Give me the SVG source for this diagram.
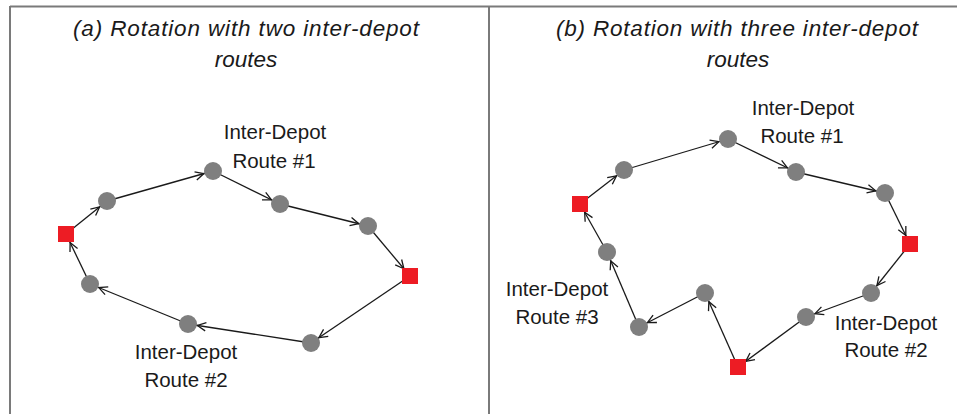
<svg xmlns="http://www.w3.org/2000/svg" width="957" height="414" viewBox="0 0 957 414">
<style>
.frame{stroke:#7a7a7a;stroke-width:2;fill:none}
.title{font-family:"Liberation Sans",Arial,sans-serif;font-style:italic;font-size:22.5px;fill:#1a1a1a;text-anchor:middle}
.lbl{font-family:"Liberation Sans",Arial,sans-serif;font-size:20.5px;fill:#1a1a1a;text-anchor:middle}
.c{fill:#7f7f7f}
.d{fill:#ed1c24}
.e{stroke:#1a1a1a;stroke-width:1.3;fill:none;marker-end:url(#arr)}
</style>
<defs>
<marker id="arr" markerUnits="userSpaceOnUse" markerWidth="30" markerHeight="14" refX="19.5" refY="5" orient="auto" overflow="visible">
<path d="M1.5,0.8 L10,5 L1.5,9.2" fill="none" stroke="#1a1a1a" stroke-width="1.3"/>
</marker>
</defs>
<rect width="957" height="414" fill="#fff"/>
<g id="frame">
<line class="frame" x1="10" y1="6.5" x2="957" y2="6.5"/>
<line class="frame" x1="10" y1="6" x2="10" y2="414"/>
<line class="frame" x1="489" y1="6" x2="489" y2="414"/>
</g>
<g id="titles">
<text class="title" x="246" y="36" textLength="346" lengthAdjust="spacing">(a) Rotation with two inter-depot</text>
<text class="title" x="246" y="67">routes</text>
<text class="title" x="737" y="36" textLength="362" lengthAdjust="spacing">(b) Rotation with three inter-depot</text>
<text class="title" x="738" y="67">routes</text>
</g>
<g id="labels">
<text class="lbl" x="275" y="139">Inter-Depot</text>
<text class="lbl" x="274" y="168">Route #1</text>
<text class="lbl" x="186" y="359">Inter-Depot</text>
<text class="lbl" x="186" y="387">Route #2</text>
<text class="lbl" x="803" y="115">Inter-Depot</text>
<text class="lbl" x="802" y="143">Route #1</text>
<text class="lbl" x="557" y="296">Inter-Depot</text>
<text class="lbl" x="557" y="324">Route #3</text>
<text class="lbl" x="886" y="330">Inter-Depot</text>
<text class="lbl" x="886" y="357">Route #2</text>
</g>
<g id="connectors">
<line class="e" x1="66" y1="234" x2="107" y2="201"/>
<line class="e" x1="107" y1="201" x2="213" y2="171"/>
<line class="e" x1="213" y1="171" x2="280" y2="204"/>
<line class="e" x1="280" y1="204" x2="368" y2="226"/>
<line class="e" x1="368" y1="226" x2="410" y2="276"/>
<line class="e" x1="410" y1="276" x2="311" y2="343"/>
<line class="e" x1="311" y1="343" x2="188" y2="324"/>
<line class="e" x1="188" y1="324" x2="90" y2="284"/>
<line class="e" x1="90" y1="284" x2="66" y2="234"/>
<line class="e" x1="580" y1="204" x2="624" y2="170"/>
<line class="e" x1="624" y1="170" x2="728" y2="139"/>
<line class="e" x1="728" y1="139" x2="796" y2="172"/>
<line class="e" x1="796" y1="172" x2="885" y2="193"/>
<line class="e" x1="885" y1="193" x2="910" y2="244"/>
<line class="e" x1="910" y1="244" x2="871" y2="293"/>
<line class="e" x1="871" y1="293" x2="806" y2="317"/>
<line class="e" x1="806" y1="317" x2="738" y2="367"/>
<line class="e" x1="738" y1="367" x2="705" y2="293"/>
<line class="e" x1="705" y1="293" x2="639" y2="327"/>
<line class="e" x1="639" y1="327" x2="607" y2="252"/>
<line class="e" x1="607" y1="252" x2="580" y2="204"/>
</g>
<g id="a_d1"><rect class="d" x="58" y="226" width="16" height="16"/></g>
<g id="a_n1"><circle class="c" cx="107" cy="201" r="9"/></g>
<g id="a_n2"><circle class="c" cx="213" cy="171" r="9"/></g>
<g id="a_n3"><circle class="c" cx="280" cy="204" r="9"/></g>
<g id="a_n4"><circle class="c" cx="368" cy="226" r="9"/></g>
<g id="a_d2"><rect class="d" x="402" y="268" width="16" height="16"/></g>
<g id="a_n5"><circle class="c" cx="311" cy="343" r="9"/></g>
<g id="a_n6"><circle class="c" cx="188" cy="324" r="9"/></g>
<g id="a_n7"><circle class="c" cx="90" cy="284" r="9"/></g>
<g id="b_d1"><rect class="d" x="572" y="196" width="16" height="16"/></g>
<g id="b_n1"><circle class="c" cx="624" cy="170" r="9"/></g>
<g id="b_n2"><circle class="c" cx="728" cy="139" r="9"/></g>
<g id="b_n3"><circle class="c" cx="796" cy="172" r="9"/></g>
<g id="b_n4"><circle class="c" cx="885" cy="193" r="9"/></g>
<g id="b_d2"><rect class="d" x="902" y="236" width="16" height="16"/></g>
<g id="b_n5"><circle class="c" cx="871" cy="293" r="9"/></g>
<g id="b_n6"><circle class="c" cx="806" cy="317" r="9"/></g>
<g id="b_d3"><rect class="d" x="730" y="359" width="16" height="16"/></g>
<g id="b_n7"><circle class="c" cx="705" cy="293" r="9"/></g>
<g id="b_n8"><circle class="c" cx="639" cy="327" r="9"/></g>
<g id="b_n9"><circle class="c" cx="607" cy="252" r="9"/></g>
</svg>
